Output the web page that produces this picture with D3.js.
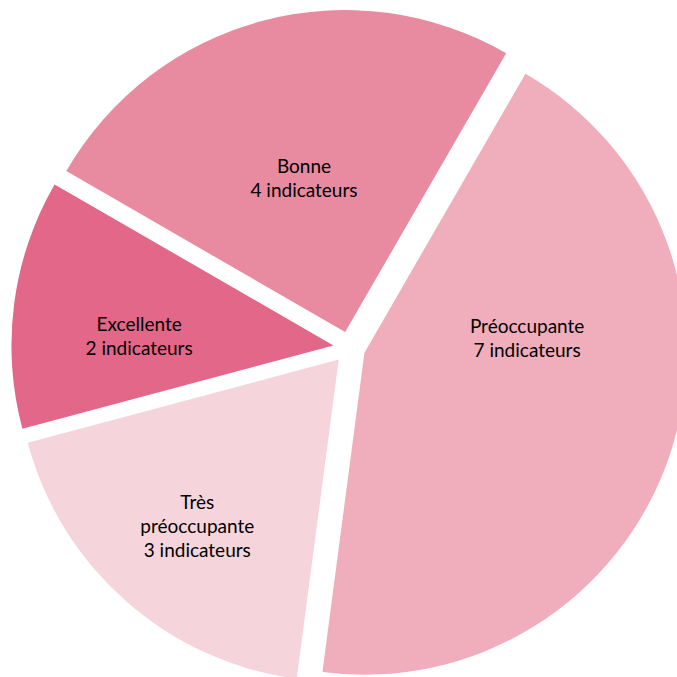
<!DOCTYPE html>
<html lang="fr">
<head>
<meta charset="utf-8">
<title>Répartition des indicateurs</title>
<script src="https://cdn.jsdelivr.net/npm/d3@7"></script>
<style>
  html, body { margin: 0; padding: 0; background: #ffffff; }
  svg { display: block; }
  text { font-family: Lato, "Open Sans", sans-serif; }
</style>
</head>
<body>
<svg id="chart" width="677" height="677"></svg>
<script>
// Categories and number of indicators in each
const categories = ["Excellente", "Bonne", "Préoccupante", "Très préoccupante"];
const values = [2, 4, 7, 3];
const unitLabel = "indicateurs";
const colors = ["#e26789", "#e88ba0", "#f0adbb", "#f5d5db"];

// Layout
const width = 677, height = 677;
const cx = 349.3, cy = 347.5;
const radius = 322;
const explode = 16;
const firstSliceAngle = 255; // degrees, clockwise from 12 o'clock
// Label placement inside each slice: angle shift from the slice bisector (deg) and fraction of radius
const labelPlacement = [
  { shift: -5.0, frac: 0.604 },
  { shift: 0, frac: 0.494 },
  { shift: -23.5, frac: 0.507 },
  { shift: -1, frac: 0.68 }
];
const fontSize = 19;
const lineHeight = 24;

const rad = d => d * Math.PI / 180;
const start = rad(firstSliceAngle);

const pie = d3.pie()
  .sort(null)
  .value(d => d.value)
  .startAngle(start)
  .endAngle(start + 2 * Math.PI);

const data = categories.map((c, i) => ({ name: c, value: values[i], color: colors[i], place: labelPlacement[i] }));
const arcs = pie(data);

const arc = d3.arc().innerRadius(0).outerRadius(radius);

const svg = d3.select("#chart");
const g = svg.append("g").attr("transform", `translate(${cx},${cy})`);

const slice = g.selectAll("g.slice")
  .data(arcs)
  .join("g")
  .attr("class", "slice")
  .attr("transform", d => {
    const mid = (d.startAngle + d.endAngle) / 2;
    return `translate(${explode * Math.sin(mid)},${-explode * Math.cos(mid)})`;
  });

slice.append("path")
  .attr("d", arc)
  .attr("fill", d => d.data.color);

slice.append("text")
  .attr("text-anchor", "middle")
  .attr("font-size", fontSize)
  .attr("fill", "#000000")
  .each(function (d) {
    const mid = (d.startAngle + d.endAngle) / 2 + rad(d.data.place.shift);
    const r = radius * d.data.place.frac;
    const x = r * Math.sin(mid);
    const y = -r * Math.cos(mid);
    const lines = d.data.name.split(" ").concat([`${d.data.value} ${unitLabel}`]);
    const firstBaseline = y + 6.3 - (lines.length - 1) * lineHeight / 2;
    const t = d3.select(this);
    lines.forEach((ln, i) => {
      t.append("tspan")
        .attr("x", x)
        .attr("y", firstBaseline + i * lineHeight)
        .text(ln);
    });
  });
</script>
</body>
</html>
